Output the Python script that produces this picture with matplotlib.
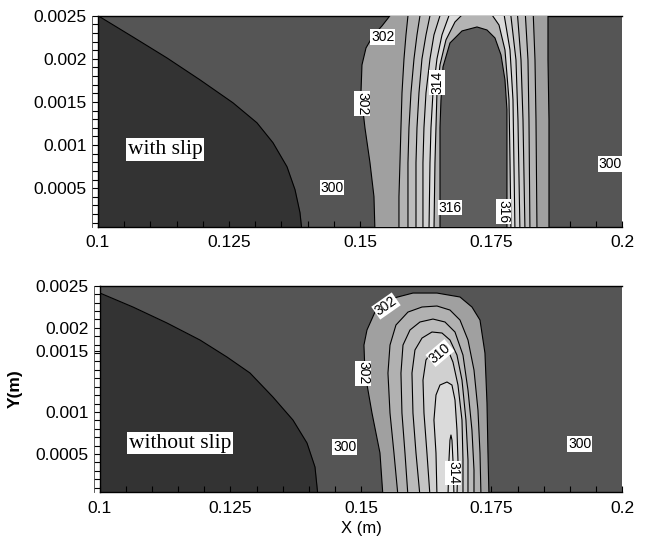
import numpy as np
import matplotlib.pyplot as plt
import matplotlib.transforms as mtransforms
from matplotlib.ticker import MultipleLocator, FixedLocator

# ---- wall / solid region boundary (x, y in m) ----
top_wall_x = [0.1, 0.10668, 0.11317, 0.11947, 0.12576, 0.13034, 0.1334, 0.13607, 0.1376, 0.13855, 0.13893]
top_wall_y = [0.0025, 0.002253, 0.00201, 0.001756, 0.00149, 0.001258, 0.001027, 0.000749, 0.000483, 0.000217, 0.0]
bot_wall_x = [0.1, 0.10632, 0.11284, 0.11916, 0.12433, 0.12874, 0.13314, 0.13697, 0.13966, 0.14119, 0.14176]
bot_wall_y = [0.002413, 0.002247, 0.002057, 0.001855, 0.001653, 0.001463, 0.001177, 0.000904, 0.000631, 0.000346, 0.0]

# ---- isotherms, with slip (K) ----
t302_x = [0.15286, 0.15267, 0.15191, 0.15095, 0.15019, 0.15038, 0.15115, 0.15248, 0.1542, 0.15573, 0.15687, 0.18588, 0.18588, 0.18607, 0.18607]
t302_y = [0.0, 0.000402, 0.000795, 0.0012, 0.001605, 0.001929, 0.002126, 0.002265, 0.002381, 0.0025, 0.002589, 0.002589, 0.001987, 0.001293, 0.0]
t304_x = [0.15744, 0.15744, 0.15763, 0.15782, 0.15802, 0.1584, 0.15878, 0.15916, 0.15935, 0.18302, 0.1834, 0.18359, 0.18378]
t304_y = [0.0, 0.000402, 0.000795, 0.0012, 0.001605, 0.001999, 0.002277, 0.0025, 0.002589, 0.002589, 0.001987, 0.001293, 0.0]
t306_x = [0.15916, 0.15916, 0.15935, 0.15973, 0.16031, 0.16088, 0.16145, 0.16164, 0.18149, 0.18206, 0.18225, 0.18244]
t306_y = [0.0, 0.000795, 0.0012, 0.001605, 0.001999, 0.002277, 0.0025, 0.002589, 0.002589, 0.001987, 0.001293, 0.0]
t308_x = [0.16069, 0.16069, 0.16088, 0.16126, 0.16183, 0.1626, 0.16336, 0.16374, 0.17996, 0.18073, 0.18111, 0.18149]
t308_y = [0.0, 0.000795, 0.0012, 0.001605, 0.001999, 0.002277, 0.0025, 0.002589, 0.002589, 0.001987, 0.001293, 0.0]
t310_x = [0.16202, 0.16202, 0.16221, 0.1626, 0.16336, 0.16412, 0.16527, 0.16565, 0.17863, 0.17977, 0.18015, 0.18053]
t310_y = [0.0, 0.000795, 0.0012, 0.001605, 0.001999, 0.002277, 0.0025, 0.002589, 0.002589, 0.001987, 0.001293, 0.0]
t312_x = [0.16317, 0.16336, 0.16355, 0.16393, 0.16469, 0.16565, 0.16698, 0.16756, 0.17729, 0.17863, 0.1792, 0.17958]
t312_y = [0.0, 0.000795, 0.0012, 0.001605, 0.001999, 0.002277, 0.0025, 0.002589, 0.002589, 0.002103, 0.001524, 0.0]
t314_x = [0.16412, 0.16431, 0.1645, 0.16469, 0.16527, 0.16641, 0.16813, 0.17004, 0.17252, 0.17481, 0.17653, 0.17767, 0.17844, 0.17863, 0.17882]
t314_y = [0.0, 0.000795, 0.0012, 0.001605, 0.001929, 0.002219, 0.002427, 0.002543, 0.002589, 0.002543, 0.002392, 0.002103, 0.001524, 0.00083, 0.0]
t316_x = [0.16527, 0.16527, 0.16546, 0.16584, 0.16718, 0.16947, 0.17233, 0.17424, 0.17576, 0.17691, 0.17767, 0.17805, 0.17805]
t316_y = [0.0, 0.0012, 0.001524, 0.001906, 0.002184, 0.002323, 0.002369, 0.002334, 0.002242, 0.002045, 0.001756, 0.001409, 0.0]

# ---- isotherms, without slip (K) ----
b302_x = [0.15421, 0.15364, 0.15211, 0.15077, 0.15057, 0.15115, 0.15268, 0.15556, 0.15996, 0.16456, 0.16897, 0.17126, 0.1728, 0.17375, 0.17414, 0.17433, 0.17452]
b302_y = [0.0, 0.000512, 0.000987, 0.001462, 0.001795, 0.001974, 0.002187, 0.002342, 0.002413, 0.002413, 0.002366, 0.002247, 0.002092, 0.0017, 0.001106, 0.000512, 0.0]
b304_x = [0.15709, 0.15632, 0.15556, 0.15517, 0.15556, 0.1567, 0.159, 0.16169, 0.16456, 0.16705, 0.16897, 0.1705, 0.17165, 0.17241, 0.1728, 0.17299]
b304_y = [0.0, 0.000512, 0.000987, 0.001462, 0.001795, 0.002033, 0.002187, 0.002247, 0.002259, 0.002211, 0.002092, 0.001855, 0.001498, 0.001023, 0.000512, 0.0]
b306_x = [0.159, 0.15843, 0.15785, 0.15766, 0.15805, 0.15939, 0.1613, 0.16379, 0.16609, 0.16801, 0.16954, 0.1705, 0.17126, 0.17165, 0.17165]
b306_y = [0.0, 0.000512, 0.000987, 0.001462, 0.001795, 0.001974, 0.002069, 0.002104, 0.002069, 0.00195, 0.001676, 0.00126, 0.000785, 0.00031, 0.0]
b308_x = [0.1613, 0.16054, 0.15996, 0.15977, 0.16034, 0.16169, 0.1636, 0.16552, 0.16705, 0.16839, 0.16935, 0.17011, 0.1705, 0.1705]
b308_y = [0.0, 0.000512, 0.000987, 0.001462, 0.001736, 0.001878, 0.00195, 0.001938, 0.001855, 0.001676, 0.001379, 0.000904, 0.000429, 0.0]
b310_x = [0.16322, 0.16264, 0.16207, 0.16188, 0.16245, 0.16379, 0.16533, 0.16667, 0.16762, 0.16858, 0.16935, 0.16954, 0.16954]
b310_y = [0.0, 0.000512, 0.000987, 0.001379, 0.001617, 0.001736, 0.001783, 0.001736, 0.001593, 0.00132, 0.000904, 0.000429, 0.0]
b312_x = [0.16456, 0.16437, 0.16398, 0.16437, 0.16513, 0.16648, 0.16743, 0.16801, 0.16839, 0.16858, 0.16839]
b312_y = [0.0, 0.000512, 0.000904, 0.001201, 0.00132, 0.001356, 0.00132, 0.001142, 0.000785, 0.000429, 0.0]
b314_x = [0.16667, 0.16686, 0.16705, 0.16724, 0.16743, 0.16762, 0.16782]
b314_y = [0.0, 0.000429, 0.000666, 0.000726, 0.000666, 0.000429, 0.0]

# band greys, outermost level first
top_fill = ['#a0a0a0', '#b3b3b3', '#bdbdbd', '#c7c7c7', '#d1d1d1', '#dbdbdb', '#b4b4b4', '#5e5e5e']
bot_fill = ['#a0a0a0', '#b1b1b1', '#bbbbbb', '#c5c5c5', '#d0d0d0', '#dadada', '#e2e2e2']

# contour labels: text, x, y, rotation
top_labels = [('302', 0.15439, 0.002253, 0), ('302', 0.15038, 0.001478, -90),
              ('314', 0.16469, 0.001721, 90), ('316', 0.16718, 0.000274, 0),
              ('316', 0.17739, 0.000228, -90), ('300', 0.14466, 0.000506, 0),
              ('300', 0.19771, 0.000784, 0)]
bot_labels = [('302', 0.15479, 0.002259, 35), ('302', 0.15038, 0.001462, -90),
              ('310', 0.16513, 0.0017, 40), ('314', 0.16762, 0.000274, -90),
              ('300', 0.14693, 0.000583, 0), ('300', 0.19195, 0.000619, 0)]

xticks = [0.1, 0.125, 0.15, 0.175, 0.2]
xtick_labels = ['0.1', '0.125', '0.15', '0.175', '0.2']
top_yticks = [0.0005, 0.001, 0.0015, 0.002, 0.0025]
bot_yticks = [0.0005, 0.001, 0.00172, 0.002, 0.0025]
ytick_labels = ['0.0005', '0.001', '0.0015', '0.002', '0.0025']

plt.rcParams['font.family'] = ['Liberation Sans', 'DejaVu Sans']


def draw_panel(ax, wall_x, wall_y, lines, fills, labels, tag, tag_xy, ylo, yticks):
    ax.set_facecolor('#555555')
    ax.fill_betweenx(wall_y, 0.1, wall_x, color='#333333', lw=0, zorder=1)
    ax.plot(wall_x, wall_y, color='k', lw=0.8, zorder=2)
    for (cx, cy), c in zip(lines, fills):
        ax.fill(cx, cy, color=c, lw=0, zorder=3)
        ax.plot(cx, cy, color='k', lw=0.8, zorder=4)
    for s, lx, ly, rot in labels:
        ax.text(lx, ly, s, rotation=rot, ha='center', va='center', fontsize=10,
                bbox=dict(facecolor='white', edgecolor='none', pad=0.6), zorder=6)
    ax.text(tag_xy[0], tag_xy[1], tag, ha='center', va='center', fontsize=15.5,
            family='Liberation Serif',
            bbox=dict(facecolor='white', edgecolor='none', pad=1.2), zorder=6)

    ax.set_xlim(0.1, 0.2)
    ax.set_ylim(ylo, 0.0025)
    ax.set_xticks(xticks)
    ax.set_xticklabels(xtick_labels)
    ax.xaxis.set_minor_locator(MultipleLocator(0.005))
    ax.yaxis.set_major_locator(FixedLocator(yticks))
    ax.set_yticklabels(ytick_labels)
    ax.yaxis.set_minor_locator(MultipleLocator(0.0001))
    ax.tick_params(axis='x', which='both', direction='in', length=4, width=0.8,
                   labelsize=12.5, pad=6)
    ax.tick_params(axis='y', which='both', direction='out', length=4, width=0.8,
                   labelsize=12.5, pad=4)
    ax.spines['right'].set_visible(False)
    for sp in ['left', 'top', 'bottom']:
        ax.spines[sp].set_linewidth(1.0)
    # thin outer rule that closes the tick strip on the left
    off = mtransforms.ScaledTranslation(-4 / 72, 0, ax.figure.dpi_scale_trans)
    ax.plot([0, 0], [0, 1], transform=ax.transAxes + off, color='#444444',
            lw=0.6, clip_on=False)


fig = plt.figure(figsize=(6.45, 5.48), dpi=100)
ax1 = fig.add_axes([0.1519, 0.5858, 0.8124, 0.3856])
ax2 = fig.add_axes([0.155, 0.1016, 0.8093, 0.377])

top_lines = [(t302_x, t302_y), (t304_x, t304_y), (t306_x, t306_y), (t308_x, t308_y),
             (t310_x, t310_y), (t312_x, t312_y), (t314_x, t314_y), (t316_x, t316_y)]
bot_lines = [(b302_x, b302_y), (b304_x, b304_y), (b306_x, b306_y), (b308_x, b308_y),
             (b310_x, b310_y), (b312_x, b312_y), (b314_x, b314_y)]

draw_panel(ax1, top_wall_x, top_wall_y, top_lines, top_fill, top_labels,
           'with slip', (0.11279, 0.000946), 0.00005, top_yticks)
draw_panel(ax2, bot_wall_x, bot_wall_y, bot_lines, bot_fill, bot_labels,
           'without slip', (0.11533, 0.000631), 0.000045, bot_yticks)

ax2.set_xlabel('X (m)', fontsize=12, labelpad=4)
ax2.set_ylabel('Y(m)', fontsize=12.5, fontweight='bold', labelpad=9)

fig.savefig('out.png', dpi=100)
